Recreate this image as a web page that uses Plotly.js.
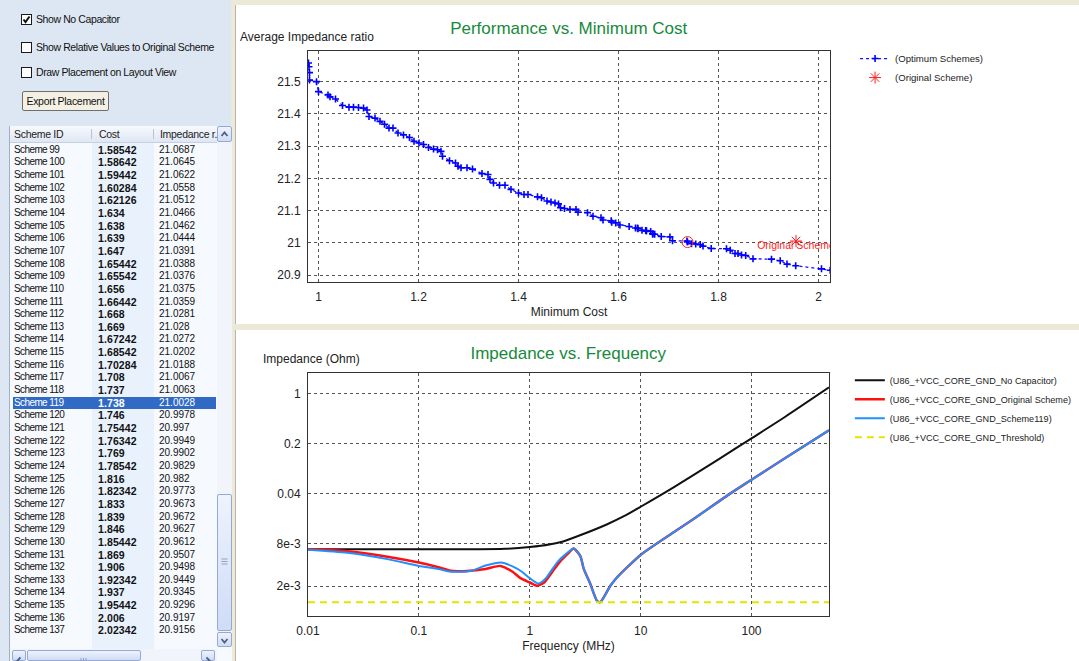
<!DOCTYPE html>
<html><head><meta charset="utf-8">
<script src="https://cdn.plot.ly/plotly-3.0.1.min.js"></script>
<style>
html,body{margin:0;padding:0;width:1079px;height:661px;overflow:hidden;background:#ece9d8;font-family:"Liberation Sans",Arial,sans-serif;}
.abs{position:absolute;}
#left{left:0;top:0;width:231px;height:661px;background:#dde7f3;}
.cb{position:absolute;width:9px;height:9px;border:1px solid #1b1b1b;background:#fff;}
.lbl{position:absolute;font-size:10.5px;color:#111;line-height:12px;white-space:nowrap;letter-spacing:-0.4px;}
#btn{position:absolute;left:22px;top:91px;width:85px;height:18px;border:1px solid #6f6f6f;background:#f4f1e4;font-size:10.5px;line-height:18px;text-align:center;color:#111;border-radius:2px;letter-spacing:-0.3px;}
#tbl{left:9px;top:126px;width:222px;height:535px;background:#f6f9fd;border-left:1px solid #9fb0c8;overflow:hidden;}
#hdr{position:absolute;left:0;top:0;width:207px;height:16px;background:linear-gradient(#f7f9fd,#dfe7f4);border-bottom:1px solid #c5d0e0;}
.hc{position:absolute;top:0;font-size:10.5px;line-height:16px;color:#222;white-space:nowrap;letter-spacing:-0.3px;}
.sep{position:absolute;top:3px;width:1px;height:10px;background:#b8c4d6;}
.row{position:absolute;left:0;width:206px;height:12.65px;font-size:10px;line-height:12.65px;color:#111;white-space:nowrap;}
.row span{position:absolute;}
.c1{letter-spacing:-0.6px;}
.c2{font-weight:bold;font-size:10.5px;letter-spacing:0.1px;}
.sel{background:#316ac5;color:#fff;}
.sbtn{position:absolute;border:1px solid #93a9d6;background:linear-gradient(#eef3fd,#cfdcf5);border-radius:2px;box-sizing:border-box;}
#topP{left:235px;top:5px;width:844px;height:319px;background:#fff;border-left:1px solid #b9b6a6;box-sizing:border-box;}
#botP{left:235px;top:330px;width:844px;height:331px;background:#fff;border-left:1px solid #b9b6a6;box-sizing:border-box;}
#topChart{left:235px;top:5px;width:920px;height:319px;}
#botChart{left:235px;top:330px;width:920px;height:331px;}
</style></head>
<body>
<div id="left" class="abs">
  <div class="cb" style="left:21px;top:14px;"><svg width="9" height="9" style="position:absolute;left:0;top:0"><polyline points="1.5,4.5 3.5,7 7.5,1.5" fill="none" stroke="#111" stroke-width="2"/></svg></div>
  <div class="lbl" style="left:36px;top:13px;">Show No Capacitor</div>
  <div class="cb" style="left:21px;top:42px;"></div>
  <div class="lbl" style="left:36px;top:41px;">Show Relative Values to Original Scheme</div>
  <div class="cb" style="left:21px;top:67px;"></div>
  <div class="lbl" style="left:36px;top:66px;">Draw Placement on Layout View</div>
  <div id="btn">Export Placement</div>
</div>
<div id="tbl" class="abs">
  <div class="abs" style="left:82px;top:16px;width:62px;height:519px;background:#e9f2fc;"></div>
  <div id="hdr">
    <span class="hc" style="left:4px;">Scheme ID</span>
    <span class="sep" style="left:81px;"></span>
    <span class="hc" style="left:89px;">Cost</span>
    <span class="sep" style="left:143px;"></span>
    <span class="hc" style="left:150px;">Impedance r.</span>
  </div>
  <div id="rows"></div>
  <div class="sbtn" style="left:207px;top:0px;width:15px;height:16px;"><svg width="13" height="14"><polyline points="3.5,9 6.5,5.5 9.5,9" fill="none" stroke="#4d6185" stroke-width="1.8"/></svg></div>
  <div class="abs" style="left:207px;top:16px;width:15px;height:491px;background:#f1f4fa;"></div>
  <div class="sbtn" style="left:207px;top:368px;width:15px;height:137px;"><svg width="13" height="135"><line x1="3.5" y1="64" x2="9.5" y2="64" stroke="#8ea2c8"/><line x1="3.5" y1="66.5" x2="9.5" y2="66.5" stroke="#8ea2c8"/><line x1="3.5" y1="69" x2="9.5" y2="69" stroke="#8ea2c8"/></svg></div>
  <div class="sbtn" style="left:207px;top:506px;width:15px;height:15px;"><svg width="13" height="13"><polyline points="3.5,5 6.5,8.5 9.5,5" fill="none" stroke="#4d6185" stroke-width="1.8"/></svg></div>
  <div class="abs" style="left:0px;top:523px;width:207px;height:12px;background:#f1f4fa;"></div>
  <div class="sbtn" style="left:2px;top:524px;width:14px;height:11px;"><svg width="12" height="9"><polyline points="7.5,1.5 4.5,4.5 7.5,7.5" fill="none" stroke="#4d6185" stroke-width="1.8"/></svg></div>
  <div class="sbtn" style="left:17px;top:524px;width:114px;height:11px;"><svg width="112" height="9"><line x1="53" y1="2" x2="53" y2="7" stroke="#8ea2c8"/><line x1="55.5" y1="2" x2="55.5" y2="7" stroke="#8ea2c8"/><line x1="58" y1="2" x2="58" y2="7" stroke="#8ea2c8"/></svg></div>
  <div class="sbtn" style="left:191px;top:524px;width:14px;height:11px;"><svg width="12" height="9"><polyline points="4.5,1.5 7.5,4.5 4.5,7.5" fill="none" stroke="#4d6185" stroke-width="1.8"/></svg></div>
</div>
<div id="topP" class="abs"></div>
<div id="botP" class="abs"></div>
<div id="topChart" class="abs"></div>
<div id="botChart" class="abs"></div>
<script>
// ---------- Table data (Scheme ID / Cost / Impedance ratio) ----------
const schemeIds = [99,100,101,102,103,104,105,106,107,108,109,110,111,112,113,114,115,116,117,118,119,120,121,122,123,124,125,126,127,128,129,130,131,132,133,134,135,136,137];
const schemeCost = [1.58542,1.58642,1.59442,1.60284,1.62126,1.634,1.638,1.639,1.647,1.65442,1.65542,1.656,1.66442,1.668,1.669,1.67242,1.68542,1.70284,1.708,1.737,1.738,1.746,1.75442,1.76342,1.769,1.78542,1.816,1.82342,1.833,1.839,1.846,1.85442,1.869,1.906,1.92342,1.937,1.95442,2.006,2.02342];
const schemeRatio = [21.0687,21.0645,21.0622,21.0558,21.0512,21.0466,21.0462,21.0444,21.0391,21.0388,21.0376,21.0375,21.0359,21.0281,21.028,21.0272,21.0202,21.0188,21.0067,21.0063,21.0028,20.9978,20.997,20.9949,20.9902,20.9829,20.982,20.9773,20.9673,20.9672,20.9627,20.9612,20.9507,20.9498,20.9449,20.9345,20.9296,20.9197,20.9156];
const selectedScheme = 119;

// ---------- Earlier optimum schemes ----------
const earlyCost = [0.980,0.981,0.982,0.982,0.996,1.000,1.019,1.023,1.034,1.048,1.061,1.070,1.080,1.090,1.097,1.101,1.113,1.123,1.132,1.141,1.149,1.159,1.170,1.182,1.191,1.201,1.210,1.220,1.230,1.238,1.245,1.248,1.262,1.274,1.279,1.285,1.297,1.308,1.327,1.339,1.343,1.350,1.362,1.373,1.385,1.400,1.411,1.419,1.438,1.446,1.457,1.465,1.473,1.480,1.484,1.492,1.503,1.515,1.519,1.538,1.549,1.565,1.569];
const earlyRatio = [21.558,21.546,21.528,21.505,21.500,21.469,21.459,21.453,21.446,21.426,21.421,21.421,21.420,21.418,21.412,21.392,21.387,21.377,21.368,21.356,21.356,21.341,21.335,21.327,21.315,21.310,21.305,21.296,21.291,21.289,21.284,21.269,21.255,21.248,21.238,21.233,21.233,21.229,21.215,21.212,21.197,21.186,21.179,21.179,21.166,21.155,21.150,21.150,21.143,21.140,21.130,21.127,21.124,21.121,21.109,21.107,21.104,21.104,21.095,21.094,21.083,21.078,21.071];

const originalCost = [1.955];
const originalRatio = [21.006];
const originalLabel = ["Original Scheme"];

// ---------- Impedance vs frequency ----------
const blackFreq = [0.01,0.03,0.1,0.3,0.6,1,1.5,2,3,5,7,10,20,50,100,200,500];
const blackZ = [0.0066,0.0066,0.0066,0.0066,0.0067,0.0071,0.0077,0.0085,0.0107,0.0148,0.019,0.026,0.049,0.119,0.236,0.47,1.22];

const redFreq = [0.01,0.0226,0.052,0.1,0.15,0.193,0.272,0.4,0.544,0.7,0.824,1.0,1.16,1.34,1.6,1.89,2.2,2.49,2.86,3.07,3.5,4.04,4.33,5.33,6.2,10,20,30,64.6,100,200,500];
const redZ = [0.0066,0.0062,0.0052,0.0043,0.0037,0.0033,0.00328,0.0035,0.00386,0.0032,0.0026,0.00226,0.00203,0.00224,0.0032,0.0045,0.0057,0.00675,0.0053,0.0035,0.0022,0.00125,0.0012,0.00203,0.00272,0.0055,0.0115,0.0175,0.04,0.062,0.124,0.307];

const blueFreq = [0.01,0.0226,0.052,0.1,0.15,0.193,0.291,0.4,0.55,0.7,0.85,1.0,1.2,1.4,1.76,2.1,2.49,2.86,3.07,3.5,4.04,4.33,5.33,6.2,10,20,30,64.6,100,200,500];
const blueZ = [0.0065,0.0059,0.0048,0.00386,0.0035,0.0032,0.00328,0.0039,0.0043,0.0038,0.0032,0.0026,0.00218,0.0026,0.0043,0.0056,0.00675,0.0053,0.0035,0.0022,0.00125,0.0012,0.00203,0.00272,0.0055,0.0115,0.0175,0.04,0.062,0.124,0.307];

const thrFreq = [0.01,500];
const thrZ = [0.0012,0.0012];

const yTickVals = [1,0.2,0.04,0.008,0.002];
const yTickText = ["1","0.2","0.04","8e-3","2e-3"];
const xTickVals = [0.01,0.1,1,10,100];
const xTickText = ["0.01","0.1","1","10","100"];

// ---------- Build table ----------
const rowsDiv = document.getElementById('rows');
schemeIds.forEach(function(id,i){
  const r = document.createElement('div');
  r.className = 'row' + (id===selectedScheme ? ' sel' : '');
  r.style.top = (17.7 + i*12.65) + 'px';
  if(id===selectedScheme){ r.style.left='2.7px'; r.style.width='203px'; }
  const off = id===selectedScheme ? -2.7 : 0;
  r.innerHTML = '<span class="c1" style="left:'+(4+off)+'px">Scheme '+id+'</span>'+
                '<span class="c2" style="left:'+(88+off)+'px">'+schemeCost[i]+'</span>'+
                '<span style="left:'+(149+off)+'px">'+schemeRatio[i]+'</span>';
  rowsDiv.appendChild(r);
});

// ---------- Charts ----------
const FONT = "Liberation Sans, Arial, sans-serif";
const green = '#178a3c';
const gridCol = '#555555';
const W = 920;

const optCost = earlyCost.concat(schemeCost);
const optRatio = earlyRatio.concat(schemeRatio);
const selIdx = schemeIds.indexOf(selectedScheme);

const topTraces = [
  {x:optCost, y:optRatio, mode:'lines+markers', name:'(Optimum Schemes)',
   line:{color:'#1010ff', width:1.3, dash:'dot'},
   marker:{symbol:'cross-thin-open', size:5, color:'#0000ff', line:{color:'#0000ff', width:1.6}}},
  {x:originalCost, y:originalRatio, mode:'markers', name:'(Original Scheme)',
   marker:{symbol:'asterisk-open', size:10, color:'#ff2020', line:{color:'#ff2020', width:1}}},
  {x:[schemeCost[selIdx]], y:[schemeRatio[selIdx]], mode:'markers', showlegend:false,
   marker:{symbol:'circle-open', size:11, color:'#ff2020', line:{color:'#ff2020', width:1}}},
  {x:originalCost, y:originalRatio, mode:'text', text:originalLabel, textposition:'bottom center', showlegend:false,
   textfont:{family:FONT, size:10.5, color:'#ff2020'}, cliponaxis:true}
];

function axisBase(){
  return {showgrid:true, gridcolor:gridCol, griddash:'dot', gridwidth:1, zeroline:false,
          showline:true, linecolor:'#333', linewidth:1, mirror:true,
          ticks:'outside', ticklen:4, tickcolor:'rgba(0,0,0,0)',
          tickfont:{family:FONT, size:12, color:'#222'}};
}

const topLayout = {
  width:W, height:319,
  margin:{l:72.8, r:W-72.8-521.8, t:45.5, b:41.8},
  paper_bgcolor:'rgba(0,0,0,0)', plot_bgcolor:'#fff',
  font:{family:FONT, size:12, color:'#222'},
  title:{text:'Performance vs. Minimum Cost', font:{family:FONT, size:17, color:green},
         x:72.8/W+0.5*521.8/W, xref:'container', xanchor:'center', y:1-23.3/319, yref:'container', yanchor:'middle'},
  xaxis:Object.assign(axisBase(), {range:[0.979,2.023], tick0:1, dtick:0.2,
         title:{text:'Minimum Cost', font:{family:FONT, size:12, color:'#222'}, standoff:4}}),
  yaxis:Object.assign(axisBase(), {range:[20.879,21.595], tick0:20.9, dtick:0.1}),
  showlegend:true,
  legend:{x:1.048, xanchor:'left', y:1.03, yanchor:'top', bgcolor:'rgba(0,0,0,0)',
          font:{family:FONT, size:9.6, color:'#222'}},
  annotations:[{text:'Average Impedance ratio', xref:'paper', yref:'paper', x:-69.8/521.8, y:1+14/231.7,
               xanchor:'left', yanchor:'middle', showarrow:false, font:{family:FONT, size:12, color:'#222'}}]
};

const botTraces = [
  {x:blackFreq, y:blackZ, mode:'lines', name:'(U86_+VCC_CORE_GND_No Capacitor)',
   line:{color:'#111111', width:2, shape:'spline', smoothing:0.7}},
  {x:redFreq, y:redZ, mode:'lines', name:'(U86_+VCC_CORE_GND_Original Scheme)',
   line:{color:'#ff1010', width:2.5, shape:'spline', smoothing:0.6}},
  {x:blueFreq, y:blueZ, mode:'lines', name:'(U86_+VCC_CORE_GND_Scheme119)',
   line:{color:'#2090ff', width:2, shape:'spline', smoothing:0.6}},
  {x:thrFreq, y:thrZ, mode:'lines', name:'(U86_+VCC_CORE_GND_Threshold)',
   line:{color:'#e3e300', width:2, dash:'7px,5px'}}
];

const botLayout = {
  width:W, height:331,
  margin:{l:72.5, r:W-72.5-521.5, t:42.7, b:45},
  paper_bgcolor:'rgba(0,0,0,0)', plot_bgcolor:'#fff',
  font:{family:FONT, size:12, color:'#222'},
  title:{text:'Impedance vs. Frequency', font:{family:FONT, size:17, color:green},
         x:72.5/W+0.5*521.5/W, xref:'container', xanchor:'center', y:1-22.7/331, yref:'container', yanchor:'middle'},
  xaxis:Object.assign(axisBase(), {type:'log', range:[-2, Math.log10(500)], tickvals:xTickVals, ticktext:xTickText,
         title:{text:'Frequency (MHz)', font:{family:FONT, size:12, color:'#222'}, standoff:4}}),
  yaxis:Object.assign(axisBase(), {type:'log', range:[-3.115, 0.288], tickvals:yTickVals, ticktext:yTickText}),
  showlegend:true,
  legend:{x:1.04, xanchor:'left', y:1.03, yanchor:'top', bgcolor:'rgba(0,0,0,0)',
          font:{family:FONT, size:9.1, color:'#222'}},
  annotations:[{text:'Impedance (Ohm)', xref:'paper', yref:'paper', x:-47.5/521.5, y:1+13.7/243.3,
               xanchor:'left', yanchor:'middle', showarrow:false, font:{family:FONT, size:12, color:'#222'}}]
};

const cfg = {displayModeBar:false, staticPlot:true};
Plotly.newPlot('topChart', topTraces, topLayout, cfg);
Plotly.newPlot('botChart', botTraces, botLayout, cfg);
</script>
</body></html>
